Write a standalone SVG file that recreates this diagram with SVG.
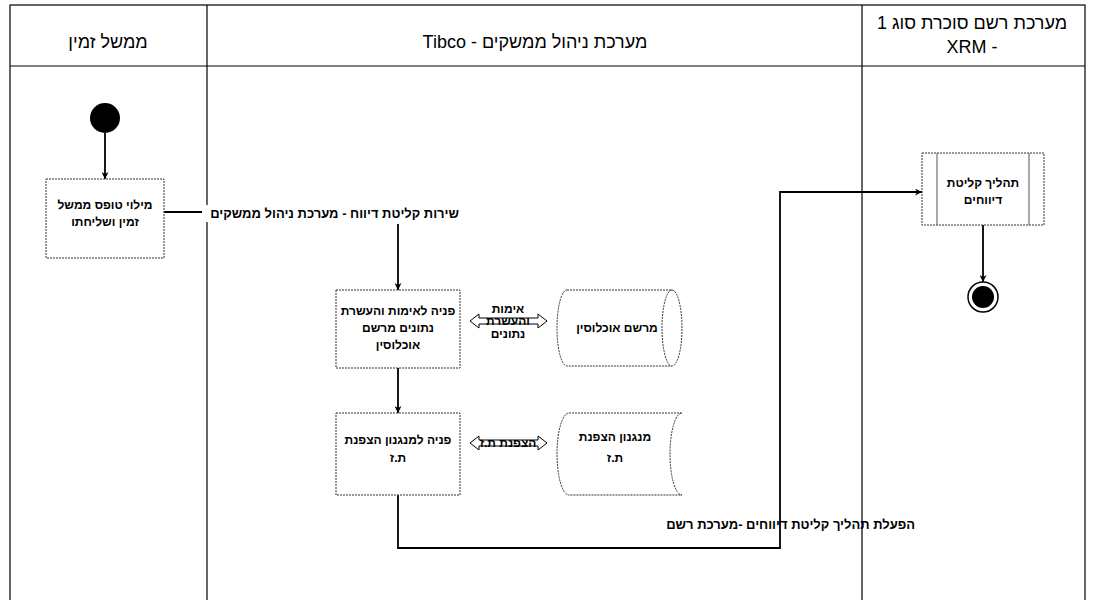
<svg xmlns="http://www.w3.org/2000/svg" width="1096" height="600" viewBox="0 0 1096 600">
<style>
text{font-family:"Liberation Sans","DejaVu Sans",sans-serif;fill:#000}
.hdr{font-size:18px}
.lbl{font-size:12px;font-weight:bold}
.clbl{font-size:13px;font-weight:bold}
.lane{stroke:#000;stroke-width:1.2;fill:none}
.box{fill:#fff;stroke:#333;stroke-width:1;stroke-dasharray:2 1}
.con{stroke:#000;stroke-width:1.8;fill:none}
.dbl{fill:#fff;stroke:#000;stroke-width:1}
</style>
<defs>
<marker id="ah" viewBox="0 0 10 10" refX="10" refY="5" markerWidth="7" markerHeight="7" orient="auto" markerUnits="userSpaceOnUse">
<path d="M0,0 L10,5 L0,10 L3,5 z" fill="#000"/>
</marker>
</defs>
<rect width="1096" height="600" fill="#fff"/>
<g id="lanes">
<rect class="lane" x="10" y="5" width="1075" height="600"/>
<line class="lane" x1="10" y1="66" x2="1085" y2="66" stroke-width="2"/>
<line class="lane" x1="207" y1="5" x2="207" y2="600"/>
<line class="lane" x1="862" y1="5" x2="862" y2="600"/>
<text class="hdr" x="108" y="48" text-anchor="middle" direction="rtl">ממשל זמין</text>
<text class="hdr" x="535" y="48" text-anchor="middle" direction="rtl">מערכת ניהול ממשקים - Tibco</text>
<text class="hdr" x="972" y="29" text-anchor="middle" direction="rtl">מערכת רשם סוכרת סוג 1</text>
<text class="hdr" x="972" y="53" text-anchor="middle">XRM -</text>
</g>
<g id="connectors">
<line class="con" x1="105" y1="133" x2="105" y2="179" marker-end="url(#ah)"/>
<line class="con" x1="164" y1="212" x2="202" y2="212"/>
<line class="con" x1="398" y1="224" x2="398" y2="290" marker-end="url(#ah)"/>
<line class="con" x1="398" y1="368" x2="398" y2="413" marker-end="url(#ah)"/>
<polyline class="con" points="398,495 398,548 780,548 780,192 922,192" marker-end="url(#ah)"/>
<line class="con" x1="983" y1="225" x2="983" y2="282" marker-end="url(#ah)"/>
<polygon class="dbl" points="470,321 479,314 479,318 538,318 538,314 547,321 538,328 538,324 479,324 479,328"/>
<polygon class="dbl" points="470,443 479,436 479,440 538,440 538,436 547,443 538,450 538,446 479,446 479,450"/>
<rect x="203" y="205" width="258" height="17" fill="#fff"/>
<text class="clbl" x="459" y="218" direction="rtl" text-anchor="start">שירות קליטת דיווח - מערכת ניהול ממשקים</text>
<text class="lbl" x="508" y="313" text-anchor="middle" direction="rtl">אימות</text>
<text class="lbl" x="508" y="325" text-anchor="middle" direction="rtl">והעשרת</text>
<text class="lbl" x="508" y="338" text-anchor="middle" direction="rtl">נתונים</text>
<text class="lbl" x="508" y="447" text-anchor="middle" direction="rtl">הצפנת ת.ז</text>
<text class="clbl" x="915" y="529" direction="rtl" text-anchor="start" font-size="14">הפעלת תהליך קליטת דיווחים -מערכת רשם</text>
</g>
<g id="start">
<circle cx="105" cy="118" r="15" fill="#000"/>
</g>
<g id="fill-form">
<rect class="box" x="46" y="179" width="118" height="79"/>
<text class="lbl" x="105" y="209" text-anchor="middle" direction="rtl">מילוי טופס ממשל</text>
<text class="lbl" x="105" y="226" text-anchor="middle" direction="rtl">זמין ושליחתו</text>
</g>
<g id="verify">
<rect class="box" x="336" y="290" width="124" height="78"/>
<text class="lbl" x="398" y="315" text-anchor="middle" direction="rtl">פניה לאימות והעשרת</text>
<text class="lbl" x="398" y="332" text-anchor="middle" direction="rtl">נתונים מרשם</text>
<text class="lbl" x="398" y="349" text-anchor="middle" direction="rtl">אוכלוסין</text>
</g>
<g id="population-registry">
<path class="box" d="M567,290 L672,290 A10,38 0 0 1 672,366 L567,366 A10,38 0 0 1 567,290 z"/>
<path class="box" d="M672,290 A10,38 0 0 0 672,366"/>
<text class="lbl" x="617" y="332" text-anchor="middle" direction="rtl">מרשם אוכלוסין</text>
</g>
<g id="encrypt-request">
<rect class="box" x="336" y="413" width="124" height="82"/>
<text class="lbl" x="398" y="444" text-anchor="middle" direction="rtl">פניה למנגנון הצפנת</text>
<text class="lbl" x="398" y="462" text-anchor="middle" direction="rtl">ת.ז</text>
</g>
<g id="encrypt-mechanism">
<path class="box" d="M569,413 L682,413 A12,41 0 0 0 682,495 L569,495 A12,41 0 0 1 569,413 z"/>
<text class="lbl" x="615" y="441" text-anchor="middle" direction="rtl">מנגנון הצפנת</text>
<text class="lbl" x="615" y="462" text-anchor="middle" direction="rtl">ת.ז</text>
</g>
<g id="report-process">
<rect class="box" x="922" y="153" width="122" height="72"/>
<line x1="937" y1="153" x2="937" y2="225" stroke="#555" stroke-width="1"/>
<line x1="1029" y1="153" x2="1029" y2="225" stroke="#555" stroke-width="1"/>
<text class="lbl" x="983" y="187" text-anchor="middle" direction="rtl">תהליך קליטת</text>
<text class="lbl" x="983" y="204" text-anchor="middle" direction="rtl">דיווחים</text>
</g>
<g id="end">
<circle cx="983" cy="297" r="15" fill="#fff" stroke="#000" stroke-width="1.5"/>
<circle cx="983" cy="297" r="11" fill="#000"/>
</g>
</svg>
